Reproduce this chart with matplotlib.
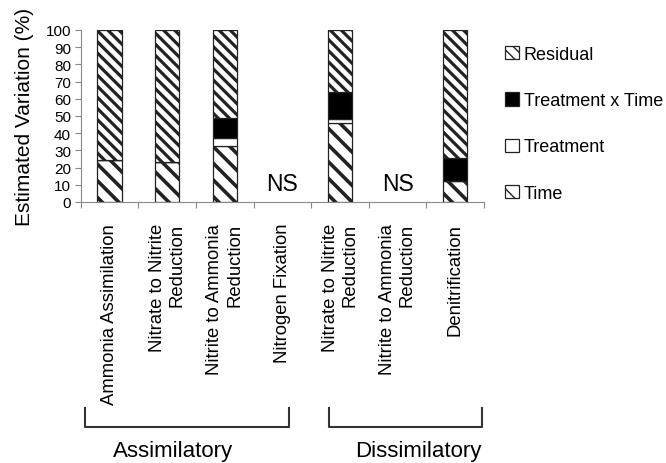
import numpy as np
import matplotlib
matplotlib.use("Agg")
import matplotlib.pyplot as plt
from matplotlib.transforms import blended_transform_factory

plt.rcParams['font.family'] = ['Liberation Sans', 'DejaVu Sans']

# data (percent of variation); NS categories have no bar
categories = ['Ammonia Assimilation', 'Nitrate to Nitrite\nReduction',
              'Nitrite to Ammonia\nReduction', 'Nitrogen Fixation',
              'Nitrate to Nitrite\nReduction', 'Nitrite to Ammonia\nReduction',
              'Denitrification']
time_pct = [24.5, 23.0, 32.6, 0, 45.7, 0, 12.0]
treatment_pct = [0, 0, 4.4, 0, 2.5, 0, 0]
interaction_pct = [0, 0, 11.6, 0, 15.9, 0, 13.4]
residual_pct = [75.5, 77.0, 51.4, 0, 35.9, 0, 74.6]
not_significant = [3, 5]

fig = plt.figure(figsize=(6.66, 4.64), dpi=100)
ax = fig.add_axes([80.7 / 666, 1 - 203 / 464, (484 - 80.7) / 666, 172 / 464])

x = np.arange(len(categories))
keep = np.array([i not in not_significant for i in x])
xs = x[keep]
t = np.array(time_pct)[keep]
tr_ = np.array(treatment_pct)[keep]
ia = np.array(interaction_pct)[keep]
rs = np.array(residual_pct)[keep]

w = 0.42
edge = '#222222'


def hatch_lw(bars, lw):
    for p in bars:
        if hasattr(p, 'set_hatch_linewidth'):
            p.set_hatch_linewidth(lw)


with plt.rc_context({'hatch.linewidth': 2.6}):
    b = ax.bar(xs, t, w, color='white', edgecolor=edge, lw=0.9,
               hatch='\\\\', label='Time')
hatch_lw(b, 2.6)
ax.bar(xs, tr_, w, bottom=t, color='white', edgecolor=edge, lw=0.9,
       label='Treatment')
ax.bar(xs, ia, w, bottom=t + tr_, color='black', edgecolor=edge, lw=0.9,
       label='Treatment x Time')
with plt.rc_context({'hatch.linewidth': 2.3}):
    b = ax.bar(xs, rs, w, bottom=t + tr_ + ia, color='white', edgecolor=edge, lw=0.9,
               hatch='\\\\\\', label='Residual')
hatch_lw(b, 2.3)

for i in not_significant:
    ax.text(x[i], 10.5, 'NS', ha='center', va='center', fontsize=16.5)

ax.set_xlim(-0.5, len(x) - 0.5)
ax.set_ylim(0, 100)
ax.set_yticks(np.arange(0, 101, 10))
ax.set_xticks(np.arange(-0.5, len(x), 1.0))
ax.set_xticklabels([])
ax.set_xticks(x, minor=True)
ax.set_xticklabels(categories, minor=True, rotation=90, fontsize=13.3,
                   va='top', ha='center', multialignment='right')
ax.tick_params(axis='x', which='minor', length=0, pad=15)
ax.tick_params(axis='x', which='major', length=4, color='#888888')
ax.tick_params(axis='y', length=4, color='#888888', labelsize=11, pad=3)
for s in ['top', 'right']:
    ax.spines[s].set_visible(False)
for s in ['left', 'bottom']:
    ax.spines[s].set_color('#888888')
ax.set_ylabel('Estimated Variation (%)', fontsize=15, labelpad=8)

# group brackets
tr = blended_transform_factory(ax.transData, fig.transFigure)
for x0, x1, name, xc in [(-0.425, 3.117, 'Assimilatory', 1.094),
                         (3.81, 6.465, 'Dissimilatory', 5.356)]:
    ax.plot([x0, x0, x1, x1], [1 - 409 / 464, 1 - 428 / 464, 1 - 428 / 464, 1 - 409 / 464],
            color='#333333', lw=1.5, transform=tr, clip_on=False)
    ax.text(xc, 1 - 452 / 464, name, ha='center', va='center', fontsize=16,
            transform=tr)

h, l = ax.get_legend_handles_labels()
fig.legend(h[::-1], l[::-1], loc='upper left', bbox_to_anchor=(505 / 666, 1 - 47 / 464),
           frameon=False, fontsize=13, handlelength=0.75, handleheight=0.75,
           handletextpad=0.3, labelspacing=1.62, borderpad=0, borderaxespad=0)

fig.savefig('out.png', dpi=100)
